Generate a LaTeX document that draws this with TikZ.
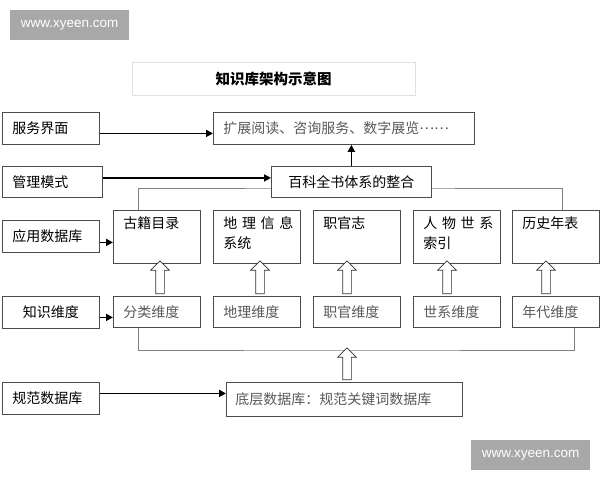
\documentclass[tikz,border=0pt]{standalone}
\usepackage{fontspec}
\setmainfont{Noto Sans CJK SC}
\newfontfamily\wmfont{Liberation Sans}
\usetikzlibrary{arrows.meta,shapes.arrows}

\begin{document}
\begin{tikzpicture}[x=1pt,y=-1pt,
  lbl/.style={draw=black!70,line width=.8pt,fill=white,anchor=north west,inner xsep=10pt,inner ysep=0pt,
    text width=77pt,align=left,minimum height=32pt,font=\fontsize{14}{16}\selectfont},
  appbox/.style={lbl,text width=67pt,inner ysep=6pt,text height=12pt,text depth=29pt,font=\fontsize{14}{20}\selectfont},
  dimbox/.style={lbl,text width=67pt,minimum height=31pt,text=black!65},
  soft/.style={lbl,text=black!65},
  bus/.style={draw=black!50,line width=.7pt},
  conn/.style={line width=1.7pt,-{Triangle[length=7pt,width=7pt]}},
  upar/.style={single arrow,draw=black!80,fill=white,line width=.7pt,inner sep=4pt,
    minimum height=33pt,single arrow head extend=5pt,shape border rotate=90},
  wm/.style={fill=black!34,text=white,anchor=north west,inner sep=0pt,minimum width=119pt,
    minimum height=30pt,font=\wmfont\fontsize{13.5}{14}\selectfont}]
\useasboundingbox (0,0) rectangle (600,480);

% watermarks and title
\node[wm] (wmtop) at (10,10) {www.xyeen.com};
\node[wm] (wmbot) at (471,440) {www.xyeen.com};
\node[anchor=north west,draw=black!12,fill=white,inner sep=0pt,minimum width=283pt,minimum height=33pt,
  font=\bfseries\fontsize{14.5}{16}\selectfont] (title) at (132,62) {知识库架构示意图};

% left column
\node[lbl] (svc) at (2,112) {服务界面};
\node[lbl,text width=80pt,minimum height=31pt] (mgmt) at (2,166) {管理模式};
\node[lbl] (appdb) at (2,220) {应用数据库};
\node[lbl,align=center] (dimlbl) at (2,296) {知识维度};
\node[lbl] (norm) at (2,382) {规范数据库};

% databases and dimensions
\foreach \n/\x/\ax/\appname/\dimname in {1/113/160/古籍目录/分类维度,
    2/213/260/{地~理~信~息\\系统}/地理维度, 3/313/347/职官志/职官维度,
    4/413/447/{人~物~世~系\\索引}/世系维度, 5/512/546/历史年表/年代维度}{
  \node[appbox] (app\n) at (\x,210) {\appname};
  \node[dimbox] (dim\n) at (\x,296) {\dimname};
  \node[upar] (up\n) at (\ax,279.5) {};
}

\coordinate (bustop) at (350,188);
\coordinate (busbot) at (347,350);
\draw[bus] ([xshift=25pt]app1.north west) |- (bustop) -| ([xshift=50pt]app5.north west);
\draw[bus] ([xshift=25pt]dim1.south west) |- (busbot) -| ([xshift=62pt]dim5.south west);

\node[soft,text width=241pt] (ext) at (213,112) {扩展阅读、咨询服务、数字展览\raisebox{.3em}{……}};
\node[lbl,text width=140pt,align=center,minimum height=31pt] (ency) at (271,166) {百科全书体系的整合};
\node[soft,inner xsep=9pt,text width=218pt,minimum height=34pt] (base) at (226,382) {底层数据库：规范关键词数据库};
\node[upar,minimum height=32pt] (upbase) at (347,366) {};

% arrows
\draw[conn] ([yshift=-5pt]svc.east) -- ([yshift=-5pt]ext.west);
\draw[conn] ([yshift=4pt]mgmt.east) -- ([yshift=4pt]ency.west);
\draw[conn] (ency.north) -- (ency.north |- ext.south);
\draw[conn] ([yshift=-6pt]appdb.east) -- ([yshift=-6pt]appdb.east -| app1.west);
\draw[conn] ([yshift=-5pt]dimlbl.east) -- ([yshift=-5pt]dimlbl.east -| dim1.west);
\draw[conn] ([yshift=5pt]norm.east) -- ([yshift=5pt]norm.east -| base.west);
\end{tikzpicture}
\end{document}
